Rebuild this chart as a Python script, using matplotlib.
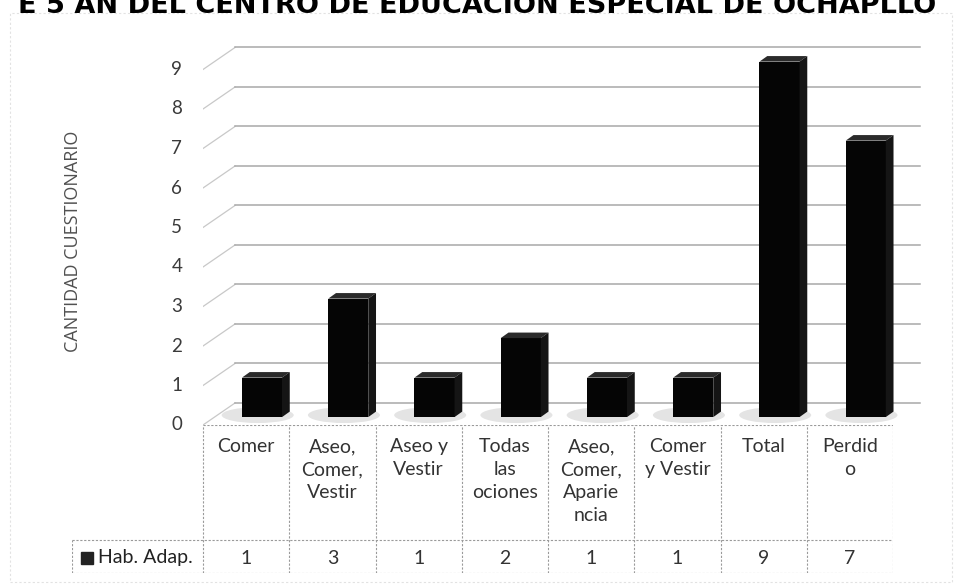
import matplotlib.pyplot as plt
from matplotlib.patches import Polygon, Rectangle, Ellipse

# datos del grafico
categorias = ["Comer", "Aseo,\nComer,\nVestir", "Aseo y\nVestir", "Todas\nlas\nociones",
              "Aseo,\nComer,\nAparie\nncia", "Comer\ny Vestir", "Total", "Perdid\no"]
hab_adap = [1, 3, 1, 2, 1, 1, 9, 7]
marcas_y = list(range(10))
serie = "Hab. Adap."
titulo = "E 5 AÑ DEL CENTRO DE EDUCACIÓN ESPECIAL DE OCHAPLLO"
eje_y = "CANTIDAD CUESTIONARIO"

plt.rcParams['font.family'] = ['Lato', 'DejaVu Sans']

W, H = 963, 585
fig = plt.figure(figsize=(W / 100, H / 100), dpi=100)
fig.patch.set_facecolor('white')


def caja(l, t, r, b):
    # pixeles de la imagen -> fraccion de la figura
    return [l / W, 1 - b / H, (r - l) / W, (b - t) / H]


# marco exterior del grafico
fig.add_artist(Rectangle((10 / W, 1 - 582 / H), 942 / W, 569 / H, transform=fig.transFigure,
                         fill=False, ec='#e2e2e2', lw=0.8, ls=(0, (2, 2))))

# titulo (el escaneo lo corta por arriba)
fig.text(0.5 * 955 / W, 1 - 13 / H, titulo, fontsize=19.5, fontweight='bold', ha='center',
         va='baseline', family=['DejaVu Sans'], color='black')

# area de las barras
col = 86.25
ax = fig.add_axes(caja(203, 30, 930, 425))
ax.set_xlim(0, 727 / col)
ax.set_ylim(0, 10)
ax.axis('off')

DX, DY = 0.371, 0.557
x_fin = 717 / col
for v in marcas_y:
    ax.plot([0, DX], [v, v + DY], color='#c8c8c8', lw=0.9)
    ax.plot([DX, x_fin], [v + DY, v + DY], color='#a8a8a8', lw=1.1)
    ax.text(-0.24, v, str(v), ha='right', va='center', fontsize=13.5, color='#3a3a3a')

fig.text(73 / W, 1 - 241 / H, eje_y, rotation=90, ha='center', va='center',
         fontsize=13, color='#505050', family=['Open Sans', 'DejaVu Sans'])

ancho, base = 0.464, 0.2
ddx, ddy = 0.09, 0.14
for i, val in enumerate(hab_adap):
    izq = i + 0.452
    ax.add_patch(Ellipse((izq + ancho / 2 - 0.05, base + 0.05), ancho * 1.8, 0.4,
                         color='#e4e4e4', lw=0, zorder=2))
    ax.add_patch(Rectangle((izq, base), ancho, val, color='#050505', lw=0, zorder=4))
    ax.add_patch(Polygon([(izq, base + val), (izq + ancho, base + val),
                          (izq + ancho + ddx, base + val + ddy), (izq + ddx, base + val + ddy)],
                         closed=True, color='#2b2b2b', lw=0, zorder=4))
    ax.add_patch(Polygon([(izq + ancho, base), (izq + ancho + ddx, base + ddy),
                          (izq + ancho + ddx, base + val + ddy), (izq + ancho, base + val)],
                         closed=True, color='#151515', lw=0, zorder=4))

# tabla de datos
tab = fig.add_axes(caja(72, 425, 893, 573))
tab.set_xlim(-131 / col, 8)
tab.set_ylim(0, 148)
tab.axis('off')
estilo = dict(color='#9a9a9a', lw=0.8, ls=(0, (2, 1.5)))
n = len(categorias)
tab.plot([0, n], [148, 148], **estilo)
tab.plot([-131 / col, n], [33, 33], **estilo)
tab.plot([-131 / col, n], [0.5, 0.5], **estilo)
tab.plot([-131 / col, -131 / col], [0, 33], **estilo)
for i in range(n + 1):
    tab.plot([i, i], [0, 148], **estilo)

for i, (cat, val) in enumerate(zip(categorias, hab_adap)):
    tab.text(i + 0.5, 135, cat, ha='center', va='top', fontsize=14, color='#333333',
             linespacing=1.42)
    tab.text(i + 0.5, 15, str(val), ha='center', va='center', fontsize=14, color='#333333')

tab.plot([(87 - 203) / col], [15.5], marker='s', ms=8, color='#222222')
tab.text((98 - 203) / col, 15, serie, ha='left', va='center', fontsize=14, color='#222222')

fig.savefig('out.png', dpi=100)
